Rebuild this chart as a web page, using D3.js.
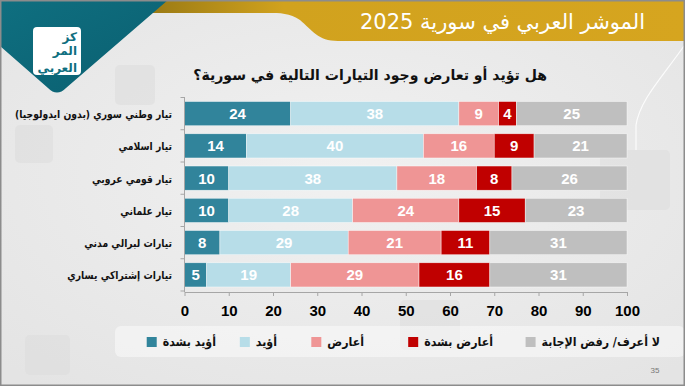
<!DOCTYPE html>
<html><head><meta charset="utf-8">
<script src="https://cdn.jsdelivr.net/npm/d3@7/dist/d3.min.js"></script>
<style>
html,body{margin:0;padding:0;background:#fff;}
svg{display:block;}
</style></head>
<body>
<svg id="c" width="685" height="386"></svg>
<script>
// ---- data ----
const categories = [
  "تيار وطني سوري (بدون ايدولوجيا)",
  "تيار اسلامي",
  "تيار قومي عروبي",
  "تيار علماني",
  "تيارات لبرالي مدني",
  "تيارات إشتراكي يساري"
];
const seriesNames = ["أؤيد بشدة", "أؤيد", "أعارض", "أعارض بشدة", "لا أعرف/ رفض الإجابة"];
const stronglySupport = [24, 14, 10, 10, 8, 5];
const support         = [38, 40, 38, 28, 29, 19];
const oppose          = [9, 16, 18, 24, 21, 29];
const stronglyOppose  = [4, 9, 8, 15, 11, 16];
const dontKnow        = [25, 21, 26, 23, 31, 31];
const xTicks = [0, 10, 20, 30, 40, 50, 60, 70, 80, 90, 100];
const titleText = "الموشر العربي في سورية 2025";
const questionText = "هل تؤيد أو تعارض وجود التيارات التالية في سورية؟";
const pageNumber = "35";

const colors = ["#31849b", "#b7dde8", "#ef9595", "#c00000", "#bfbfbf"];
const seriesValues = [stronglySupport, support, oppose, stronglyOppose, dontKnow];

const svg = d3.select("#c");
const W = 685, H = 386;
const AR = "'DejaVu Sans', 'Noto Sans', sans-serif";
const NUM = "'Liberation Sans Narrow', 'Liberation Sans', Arial, sans-serif";

// horizontally condense a text element
function condense(sel, f){
  sel.each(function(){
    const w = this.getComputedTextLength();
    d3.select(this).attr("textLength", w*f).attr("lengthAdjust","spacingAndGlyphs");
  });
}

// ---- background ----
const defs = svg.append("defs");
const bg = defs.append("radialGradient").attr("id","bg").attr("cx","50%").attr("cy","45%").attr("r","70%");
bg.append("stop").attr("offset","0%").attr("stop-color","#f1f1f1");
bg.append("stop").attr("offset","100%").attr("stop-color","#e4e4e4");
svg.append("rect").attr("width",W).attr("height",H).attr("fill","url(#bg)");

const gold = defs.append("linearGradient").attr("id","gold").attr("x1","0").attr("x2","1").attr("y1","0").attr("y2","0");
gold.append("stop").attr("offset","0%").attr("stop-color","#9a7a14");
gold.append("stop").attr("offset","25%").attr("stop-color","#d1a21e");
gold.append("stop").attr("offset","100%").attr("stop-color","#d6a51f");
const teal = defs.append("linearGradient").attr("id","teal").attr("x1","0").attr("x2","1").attr("y1","0").attr("y2","1");
teal.append("stop").attr("offset","0%").attr("stop-color","#0f6f80");
teal.append("stop").attr("offset","100%").attr("stop-color","#0a5f70");

// faint decorative squares (watermark-like shapes, no text)
const deco = svg.append("g").attr("fill","#dcdcdc").attr("opacity",0.5);
[[115,65,40,40],[15,125,38,38],[25,335,45,40],[400,300,60,50],[600,150,70,60]].forEach(r=>{
  deco.append("rect").attr("x",r[0]).attr("y",r[1]).attr("width",r[2]).attr("height",r[3]).attr("rx",5);
});

// gold header band
svg.append("path")
  .attr("d","M160,0 L685,0 L685,41 L338,41 C318,41 312,30 300,20 C290,13 280,13 268,13 L150,13 Z")
  .attr("fill","url(#gold)");
// teal corner
svg.append("path")
  .attr("d","M0,0 L168,0 L66,88 Q57,97 48,88 L0,46 Z")
  .attr("fill","url(#teal)");
// logo
svg.append("rect").attr("x",33).attr("y",27).attr("width",48).attr("height",48).attr("rx",4).attr("fill","#ffffff");
const lg = svg.append("g").attr("fill","#0f6f80").attr("font-family",AR).attr("font-weight","bold")
  .attr("direction","rtl").attr("text-anchor","start");
lg.append("text").attr("x",77).attr("y",41).attr("font-size",12).text("كز");
lg.append("text").attr("x",77).attr("y",55).attr("font-size",12).text("المر");
lg.append("text").attr("x",77).attr("y",72).attr("font-size",12).text("العربي");
// decorative white curve on right
svg.append("path").attr("d","M684,46 C660,80 640,100 636,125 L636,150")
  .attr("fill","none").attr("stroke","#ffffff").attr("stroke-width",1.2).attr("opacity",0.85);

// title
svg.append("text").attr("x",645).attr("y",29).attr("direction","rtl").attr("text-anchor","start")
  .attr("font-family",AR).attr("font-size",21).attr("fill","#ffffff").text(titleText);

// question
svg.append("text").attr("x",547).attr("y",80).attr("direction","rtl").attr("text-anchor","start")
  .attr("font-family",AR).attr("font-weight","bold").attr("font-size",14.5).attr("fill","#111").text(questionText)
  .call(condense, 0.97);

// ---- chart ----
const x = d3.scaleLinear().domain([0,100]).range([184.5,627]);
const y = d3.scaleBand().domain(categories).range([97.5,291]).paddingInner(0.25).paddingOuter(0.125);

const rows = categories.map((c,i)=>{
  let acc = 0;
  return seriesValues.map((vals,k)=>{ const s = {cat:c, k, v:vals[i], x0:acc, x1:acc+vals[i]}; acc += vals[i]; return s; });
});

const barG = svg.append("g");
rows.forEach(segs=>{
  const g = barG.append("g");
  g.selectAll("rect").data(segs).join("rect")
    .attr("x",d=>x(d.x0)).attr("width",d=>x(d.x1)-x(d.x0))
    .attr("y",d=>y(d.cat)).attr("height",y.bandwidth())
    .attr("fill",d=>colors[d.k]).attr("stroke","#ffffff").attr("stroke-width",0.6).attr("stroke-opacity",0.7);
  g.selectAll("text").data(segs).join("text")
    .attr("x",d=>(x(d.x0)+x(d.x1))/2).attr("y",d=>y(d.cat)+y.bandwidth()/2+5.5)
    .attr("text-anchor","middle").attr("font-family",NUM).attr("font-weight","bold")
    .attr("font-size",15).attr("fill","#ffffff").text(d=>d.v);
});

// x axis
const xAxis = svg.append("g").attr("transform",`translate(0,${292})`)
  .call(d3.axisBottom(x).tickValues(xTicks).tickSize(4).tickPadding(9).tickSizeOuter(0));
xAxis.select(".domain").attr("stroke","#a6a6a6");
xAxis.selectAll(".tick line").attr("stroke","#a6a6a6");
xAxis.selectAll(".tick text").attr("font-family",NUM).attr("font-weight","bold").attr("font-size",15).attr("fill","#000");

// y axis line + boundary ticks
const yLine = svg.append("g");
yLine.append("line").attr("x1",x(0)).attr("x2",x(0)).attr("y1",97).attr("y2",292).attr("stroke","#a6a6a6");
const step = y.step();
const bounds = categories.map(c=>y(c) - (step - y.bandwidth())/2).concat([y(categories[categories.length-1]) + y.bandwidth() + (step - y.bandwidth())/2]);
yLine.selectAll("line.t").data(bounds).join("line").attr("class","t")
  .attr("x1",x(0)-4).attr("x2",x(0)).attr("y1",d=>d).attr("y2",d=>d).attr("stroke","#a6a6a6");

// y labels
svg.append("g").selectAll("text").data(categories).join("text")
  .attr("x",172).attr("y",d=>y(d)+y.bandwidth()/2+4.5)
  .attr("direction","rtl").attr("text-anchor","start")
  .attr("font-family",AR).attr("font-weight","bold").attr("font-size",11).attr("fill","#111").text(d=>d)
  .call(condense, 0.84);

// ---- legend ----
svg.append("rect").attr("x",115).attr("y",326).attr("width",570).attr("height",31).attr("rx",6)
  .attr("fill","#ffffff").attr("opacity",0.45);
const legendRight = [216, 277, 364, 493, 660];
const lgd = svg.append("g");
seriesNames.forEach((n,k)=>{
  const t = lgd.append("text").attr("x",legendRight[k]).attr("y",346)
    .attr("direction","rtl").attr("text-anchor","start")
    .attr("font-family",AR).attr("font-weight","bold").attr("font-size",12).attr("fill","#111").text(n);
  const w0 = t.node().getComputedTextLength();
  const w = w0*0.92;
  t.attr("textLength",w).attr("lengthAdjust","spacingAndGlyphs");
  lgd.append("rect").attr("x",legendRight[k]-w-16).attr("y",337).attr("width",10).attr("height",10).attr("fill",colors[k]);
});

// page number
svg.append("text").attr("x",655).attr("y",373).attr("text-anchor","middle")
  .attr("font-family",NUM).attr("font-size",8).attr("fill","#777").text(pageNumber);

// frame
svg.append("rect").attr("x",0.75).attr("y",0.75).attr("width",W-1.5).attr("height",H-1.5)
  .attr("fill","none").attr("stroke","#8c8c8c").attr("stroke-width",1.5);
</script>
</body></html>
